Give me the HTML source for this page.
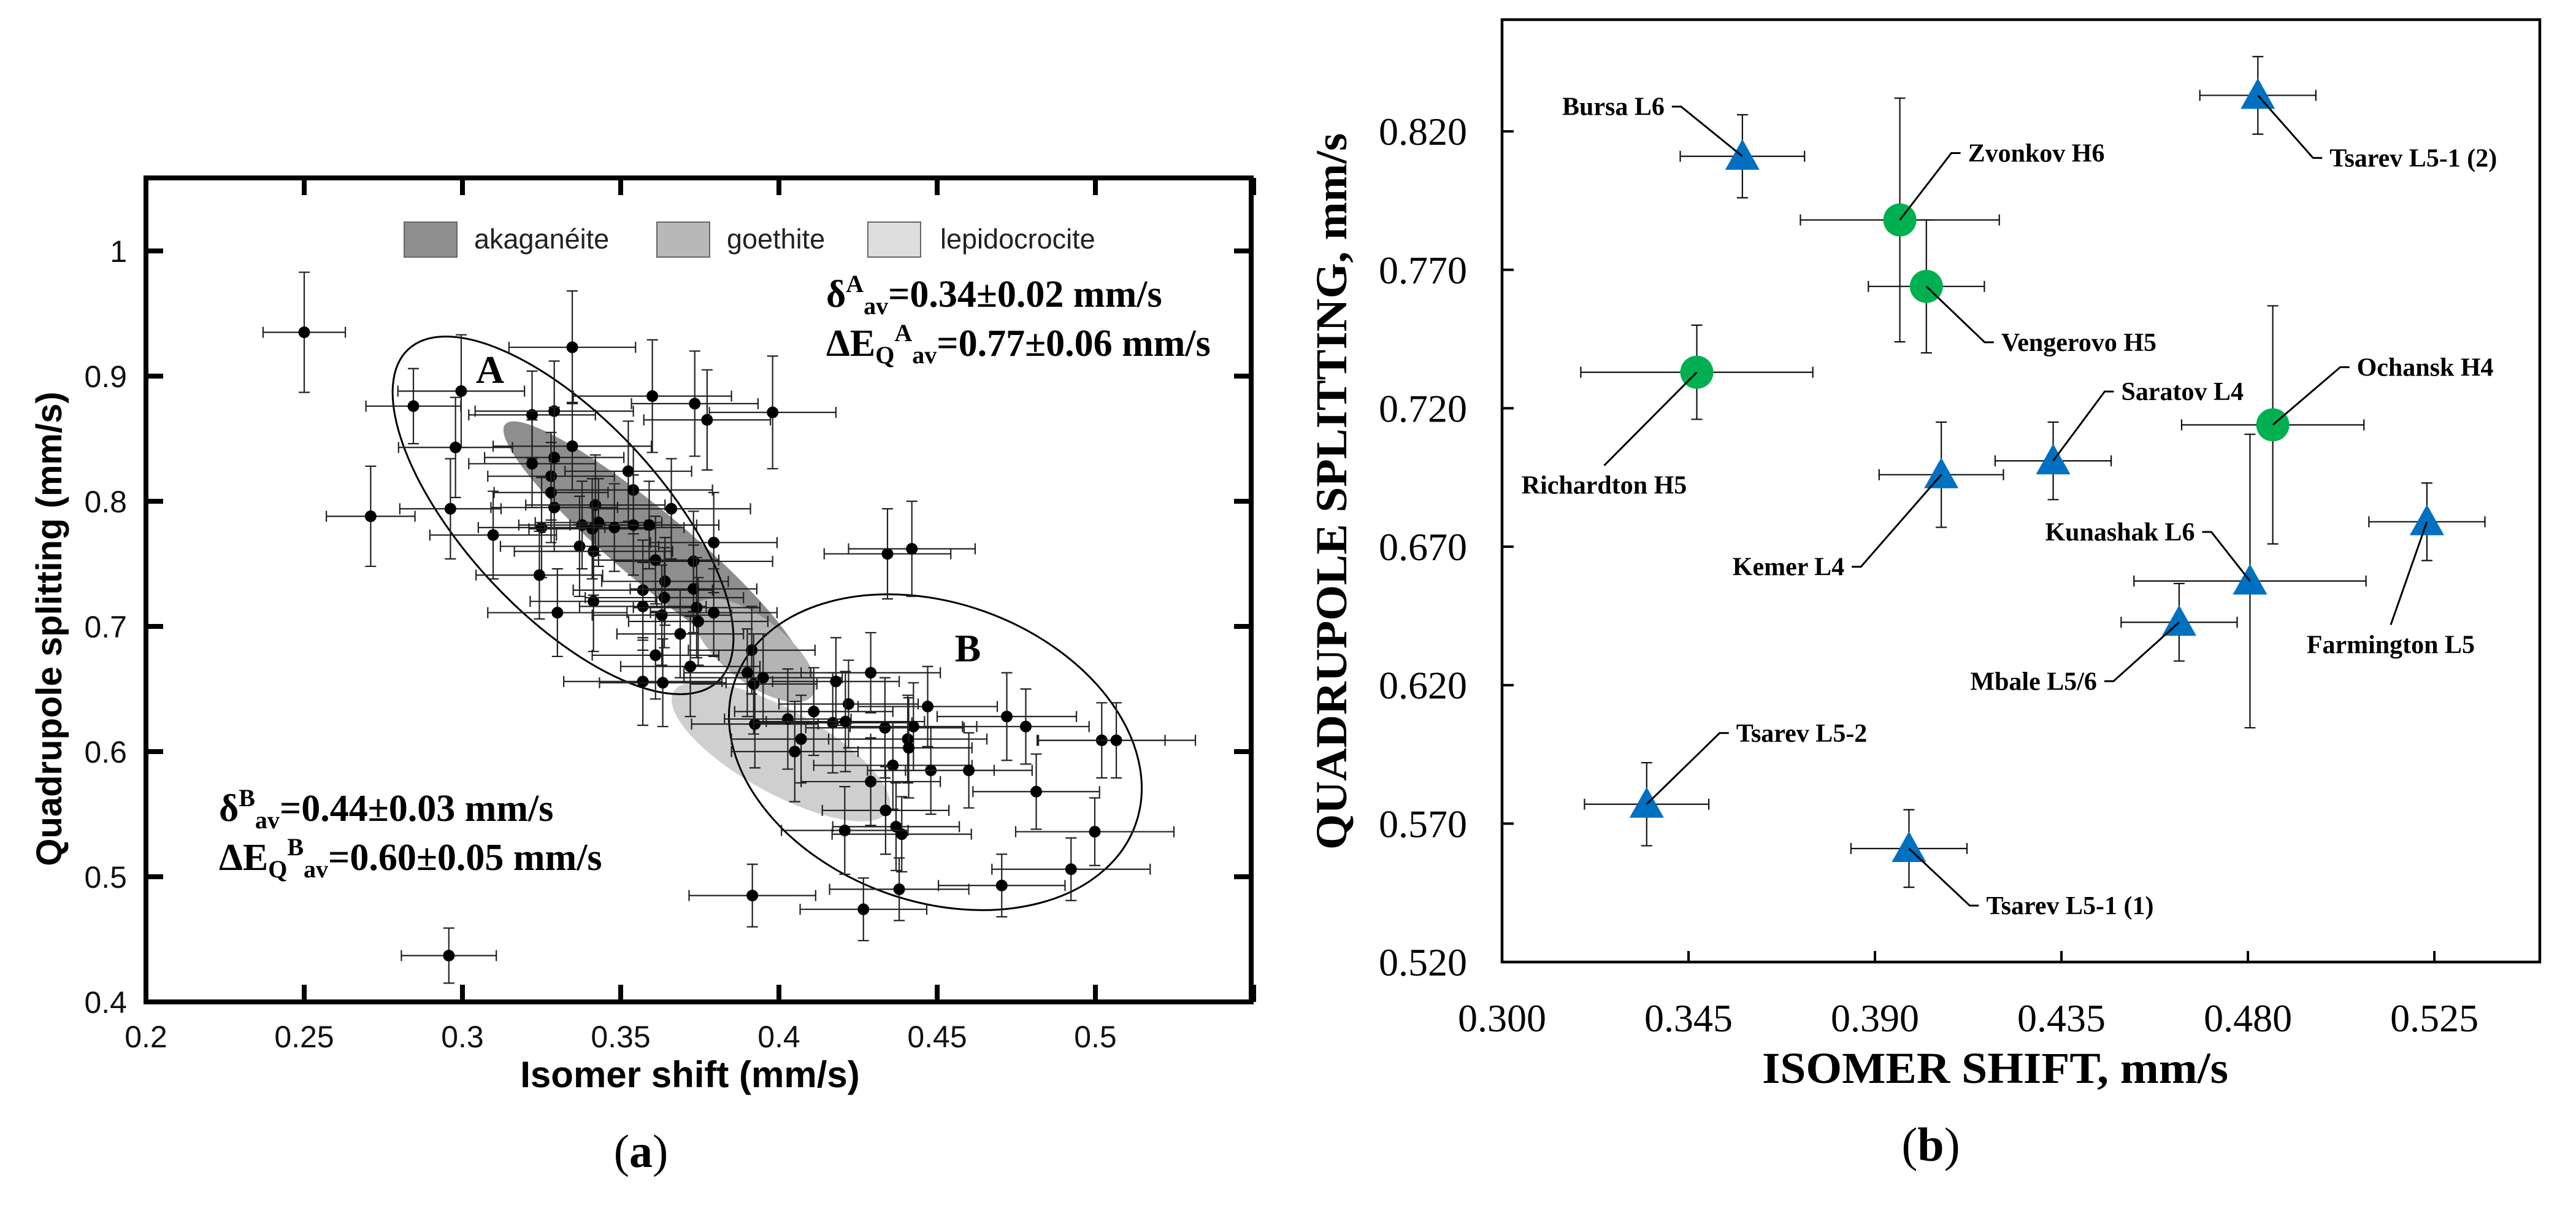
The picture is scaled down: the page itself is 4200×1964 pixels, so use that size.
<!DOCTYPE html>
<html><head><meta charset="utf-8"><style>
html,body{margin:0;padding:0;background:#fff}
svg{display:block}
.sans{font-family:"Liberation Sans",Arial,sans-serif}
.serif{font-family:"Liberation Serif","Times New Roman",serif}
</style></head><body>
<svg id="fig" width="4200" height="1964" viewBox="0 0 4200 1964" xmlns="http://www.w3.org/2000/svg">
<rect width="4200" height="1964" fill="#fff"/>
<g id="pa"></g>
<g id="pb"></g>
</svg>
<script>
// ---------- Panel (a) data ----------
const aXTicks=[0.2,0.25,0.3,0.35,0.4,0.45,0.5];
const aXTickLabels=["0.2","0.25","0.3","0.35","0.4","0.45","0.5"];
const aYTicks=[0.4,0.5,0.6,0.7,0.8,0.9,1.0];
const aYTickLabels=["0.4","0.5","0.6","0.7","0.8","0.9","1"];
const aX=[0.250,0.2957,0.271,0.2845,0.2996,0.2978,0.2962,0.3097,0.322,0.329,0.3347,0.322,0.329,0.3347,0.328,0.328,0.329,0.325,0.3243,0.330,0.337,0.3378,0.342,0.343,0.341,0.3414,0.3414,0.348,0.3524,0.354,0.354,0.359,0.360,0.366,0.361,0.357,0.364,0.3638,0.357,0.363,0.3688,0.361,0.357,0.3633,0.3734,0.3773,0.398,0.373,0.373,0.374,0.3745,0.3794,0.3794,0.372,0.3914,0.390,0.392,0.395,0.3924,0.4028,0.411,0.405,0.407,0.417,0.418,0.422,0.421,0.429,0.4335,0.4425,0.447,0.4407,0.441,0.436,0.448,0.460,0.429,0.4337,0.437,0.4388,0.4208,0.472,0.478,0.4813,0.502,0.5066,0.4998,0.4923,0.4704,0.438,0.4267,0.3916,0.4343,0.442];
const aY=[0.935,0.437,0.788,0.876,0.888,0.843,0.794,0.773,0.869,0.872,0.923,0.830,0.835,0.844,0.820,0.807,0.795,0.779,0.741,0.711,0.764,0.781,0.797,0.783,0.778,0.760,0.720,0.779,0.824,0.809,0.781,0.781,0.884,0.794,0.753,0.729,0.736,0.723,0.716,0.709,0.694,0.677,0.656,0.655,0.878,0.865,0.871,0.752,0.730,0.715,0.704,0.767,0.711,0.668,0.681,0.663,0.654,0.659,0.622,0.626,0.632,0.600,0.610,0.623,0.656,0.638,0.624,0.663,0.619,0.620,0.636,0.610,0.603,0.589,0.585,0.585,0.576,0.553,0.540,0.534,0.537,0.628,0.620,0.568,0.609,0.609,0.536,0.506,0.493,0.490,0.474,0.485,0.758,0.762];
const aXE=[0.013,0.015,0.014,0.015,0.02,0.018,0.016,0.02,0.02,0.025,0.02,0.02,0.022,0.025,0.02,0.018,0.02,0.02,0.02,0.022,0.025,0.02,0.022,0.02,0.02,0.025,0.02,0.022,0.02,0.025,0.02,0.022,0.025,0.025,0.02,0.022,0.02,0.025,0.02,0.022,0.02,0.02,0.025,0.02,0.02,0.02,0.02,0.025,0.02,0.02,0.022,0.02,0.02,0.022,0.02,0.02,0.02,0.025,0.02,0.02,0.025,0.02,0.022,0.025,0.02,0.022,0.025,0.022,0.025,0.02,0.022,0.025,0.02,0.025,0.02,0.02,0.022,0.02,0.02,0.022,0.02,0.022,0.02,0.02,0.02,0.025,0.025,0.025,0.02,0.022,0.02,0.02,0.02,0.02];
const aYE=[0.048,0.022,0.04,0.03,0.045,0.04,0.04,0.035,0.035,0.04,0.045,0.035,0.04,0.035,0.035,0.04,0.035,0.04,0.035,0.035,0.04,0.035,0.04,0.035,0.04,0.035,0.04,0.035,0.04,0.035,0.04,0.035,0.045,0.04,0.035,0.04,0.035,0.04,0.035,0.04,0.035,0.035,0.035,0.035,0.042,0.04,0.045,0.04,0.035,0.04,0.035,0.04,0.035,0.04,0.035,0.035,0.04,0.035,0.035,0.04,0.035,0.04,0.035,0.04,0.035,0.035,0.04,0.032,0.04,0.035,0.032,0.035,0.04,0.035,0.035,0.03,0.035,0.035,0.035,0.03,0.035,0.035,0.03,0.03,0.03,0.03,0.027,0.025,0.025,0.025,0.025,0.025,0.036,0.038];

// ---------- Panel (b) data ----------
const bXTicks=[0.300,0.345,0.390,0.435,0.480,0.525];
const bXTickLabels=["0.300","0.345","0.390","0.435","0.480","0.525"];
const bYTicks=[0.520,0.570,0.620,0.670,0.720,0.770,0.820];
const bYTickLabels=["0.520","0.570","0.620","0.670","0.720","0.770","0.820"];
const bNames=["Bursa L6","Zvonkov  H6","Vengerovo H5","Richardton H5","Ochansk H4","Saratov L4","Kemer L4","Tsarev L5-1 (2)","Farmington L5","Kunashak L6","Mbale L5/6","Tsarev L5-2","Tsarev L5-1 (1)"];
const bType=["L","H","H","H","H","L","L","L","L","L","L","L","L"];
const bX=[0.358,0.396,0.4024,0.347,0.486,0.433,0.406,0.4824,0.5232,0.4805,0.4634,0.3349,0.3982];
const bY=[0.811,0.788,0.764,0.733,0.714,0.701,0.696,0.833,0.679,0.6576,0.6427,0.577,0.561];
const bXE=[0.015,0.024,0.014,0.028,0.022,0.014,0.015,0.014,0.014,0.028,0.014,0.015,0.014];
const bYE=[0.015,0.044,0.024,0.017,0.043,0.014,0.019,0.014,0.014,0.053,0.014,0.015,0.014];
// label layout (pixel offsets from marker to leader elbow; side: l/r/b)
const bLabDX=[-100,84,95,-151,110,84,-131,90,-59,-63,-107,119,99];
const bLabDY=[-81,-109,91,152,-94,-113,150,102,168,-80,96,-116,93];
const bLabSide=["l","r","r","b","r","r","l","r","b","l","l","r","r"];

const NS="http://www.w3.org/2000/svg";
function mk(parent,tag,attrs,name,inter){
  const e=document.createElementNS(NS,tag);
  for(const k in attrs)e.setAttribute(k,attrs[k]);
  
  
  parent.appendChild(e);return e;
}
function txt(parent,x,y,s,attrs,name){
  const e=mk(parent,'text',Object.assign({x:x,y:y},attrs),name,false);
  e.textContent=s;return e;
}

// ================= Panel A =================
const A=document.getElementById('pa');
const aL=238,aR=2040,aT=290,aB=1633;
function ax(v){return aL+(v-0.2)*5160;}
function ay(v){return aB-(v-0.4)*2040;}

mk(A,'ellipse',{cx:1273,cy:1225,rx:200,ry:68,transform:'rotate(29 1273 1225)',fill:'#cfcfcf'},'goethite-region',false);
mk(A,'ellipse',{cx:1065,cy:894,rx:315,ry:58,transform:'rotate(40 1065 894)',fill:'#8e8e8e'},'akaganeite-region',false);
mk(A,'ellipse',{cx:1230,cy:1060,rx:120,ry:52,transform:'rotate(38 1230 1060)',fill:'#b4b4b4'},'goethite-overlap',false);

mk(A,'ellipse',{cx:918,cy:840,rx:370,ry:159,transform:'rotate(47 918 840)',fill:'none',stroke:'#000','stroke-width':3},'cluster-a-ellipse',false);
mk(A,'ellipse',{cx:1525,cy:1226,rx:347,ry:243,transform:'rotate(20 1525 1226)',fill:'none',stroke:'#000','stroke-width':3},'cluster-b-ellipse',false);

for(let i=0;i<aX.length;i++){
  const g=mk(A,'g',{},'data-point',false);
  const cx=ax(aX[i]),cy=ay(aY[i]);
  const x1=ax(aX[i]-aXE[i]),x2=ax(aX[i]+aXE[i]);
  const y1=ay(aY[i]+aYE[i]),y2=ay(aY[i]-aYE[i]);
  const s={stroke:'#222','stroke-width':2.2};
  mk(g,'line',Object.assign({x1:x1,y1:cy,x2:x2,y2:cy},s),'x-error-bar',false);
  mk(g,'line',Object.assign({x1:x1,y1:cy-9,x2:x1,y2:cy+9},s),'x-error-cap',false);
  mk(g,'line',Object.assign({x1:x2,y1:cy-9,x2:x2,y2:cy+9},s),'x-error-cap',false);
  mk(g,'line',Object.assign({x1:cx,y1:y1,x2:cx,y2:y2},s),'y-error-bar',false);
  mk(g,'line',Object.assign({x1:cx-9,y1:y1,x2:cx+9,y2:y1},s),'y-error-cap',false);
  mk(g,'line',Object.assign({x1:cx-9,y1:y2,x2:cx+9,y2:y2},s),'y-error-cap',false);
  mk(g,'circle',{cx:cx,cy:cy,r:9.5,fill:'#000'},'point-marker',false);
}

mk(A,'rect',{x:aL,y:aT,width:aR-aL,height:aB-aT,fill:'none',stroke:'#000','stroke-width':8},'plot-frame-a',false);
const aXT=aXTicks.concat([0.55]);
aXT.forEach((v,i)=>{
  const x=ax(v);
  mk(A,'line',{x1:x,y1:aB,x2:x,y2:aB-28,stroke:'#000','stroke-width':8},'x-tick',false);
  mk(A,'line',{x1:x,y1:aT,x2:x,y2:aT+28,stroke:'#000','stroke-width':8},'x-tick-top',false);
  if(i<aXTickLabels.length) txt(A,x,1707,aXTickLabels[i],{class:'sans','font-size':50,'text-anchor':'middle',fill:'#111'},'x-tick-label');
});
aYTicks.forEach((v,i)=>{
  const y=ay(v);
  mk(A,'line',{x1:aL,y1:y,x2:aL+28,y2:y,stroke:'#000','stroke-width':8},'y-tick',false);
  mk(A,'line',{x1:aR,y1:y,x2:aR-28,y2:y,stroke:'#000','stroke-width':8},'y-tick-right',false);
  txt(A,207,y+18,aYTickLabels[i],{class:'sans','font-size':50,'text-anchor':'end',fill:'#111'},'y-tick-label');
});
txt(A,1125,1772,'Isomer shift (mm/s)',{class:'sans','font-size':60,'font-weight':'bold','text-anchor':'middle'},'x-axis-title');
txt(A,0,0,'Quadrupole splitting (mm/s)',{class:'sans','font-size':58,'font-weight':'bold','text-anchor':'middle',transform:'translate(100 1025) rotate(-90)'},'y-axis-title');

const legend=mk(A,'g',{},'legend',false);
[['akaganéite',659,773,'#8e8e8e'],['goethite',1071,1185,'#b8b8b8'],['lepidocrocite',1415,1533,'#dedede']].forEach(l=>{
  mk(legend,'rect',{x:l[1],y:362,width:86,height:57,fill:l[3],stroke:'#666','stroke-width':2},'legend-swatch',false);
  txt(legend,l[2],405,l[0],{class:'sans','font-size':45,fill:'#222'},'legend-entry');
});

(function(){
  let t=mk(A,'text',{x:1347,y:500,class:'serif','font-size':62,'font-weight':'bold'},'stat-delta-a',false);
  t.innerHTML='δ<tspan font-size="40" dy="-24">A</tspan><tspan font-size="40" dy="36">av</tspan><tspan dy="-12">=0.34±0.02 mm/s</tspan>';
  t=mk(A,'text',{x:1347,y:580,class:'serif','font-size':62,'font-weight':'bold'},'stat-deq-a',false);
  t.innerHTML='ΔE<tspan font-size="40" dy="12">Q</tspan><tspan font-size="40" dy="-36">A</tspan><tspan font-size="40" dy="36">av</tspan><tspan dy="-12">=0.77±0.06 mm/s</tspan>';
  t=mk(A,'text',{x:357,y:1338,class:'serif','font-size':62,'font-weight':'bold'},'stat-delta-b',false);
  t.innerHTML='δ<tspan font-size="40" dy="-24">B</tspan><tspan font-size="40" dy="36">av</tspan><tspan dy="-12">=0.44±0.03 mm/s</tspan>';
  t=mk(A,'text',{x:357,y:1418,class:'serif','font-size':62,'font-weight':'bold'},'stat-deq-b',false);
  t.innerHTML='ΔE<tspan font-size="40" dy="12">Q</tspan><tspan font-size="40" dy="-36">B</tspan><tspan font-size="40" dy="36">av</tspan><tspan dy="-12">=0.60±0.05 mm/s</tspan>';
})();
txt(A,799,624,'A',{class:'serif','font-size':64,'font-weight':'bold','text-anchor':'middle'},'cluster-a-label');
txt(A,1578,1078,'B',{class:'serif','font-size':64,'font-weight':'bold','text-anchor':'middle'},'cluster-b-label');
(function(){
  const t=mk(A,'text',{x:1045,y:1902,class:'serif','font-size':76,'text-anchor':'middle'},'panel-a-caption',false);
  t.innerHTML='(<tspan font-weight="bold">a</tspan>)';
})();

// ================= Panel B =================
const B=document.getElementById('pb');
const bL=2449,bR=4141,bT=32,bB=1568;
function bx(v){return bL+(v-0.3)*6756;}
function by(v){return bB-(v-0.52)*4513;}

mk(B,'rect',{x:bL,y:bT,width:bR-bL,height:bB-bT,fill:'none',stroke:'#000','stroke-width':4.5},'plot-frame-b',false);
bXTicks.forEach((v,i)=>{
  const x=bx(v);
  if(i>0) mk(B,'line',{x1:x,y1:bB,x2:x,y2:bB-18,stroke:'#000','stroke-width':4},'x-tick',false);
  txt(B,x,1681,bXTickLabels[i],{class:'serif','font-size':64,'text-anchor':'middle'},'x-tick-label');
});
bYTicks.forEach((v,i)=>{
  const y=by(v);
  if(i>0) mk(B,'line',{x1:bL,y1:y,x2:bL+19,y2:y,stroke:'#000','stroke-width':4},'y-tick',false);
  txt(B,2392,y+22,bYTickLabels[i],{class:'serif','font-size':64,'text-anchor':'end'},'y-tick-label');
});
txt(B,3253,1765,'ISOMER  SHIFT,  mm/s',{class:'serif','font-size':72,'font-weight':'bold','text-anchor':'middle',textLength:760,lengthAdjust:'spacingAndGlyphs'},'x-axis-title');
txt(B,0,0,'QUADRUPOLE  SPLITTING,  mm/s',{class:'serif','font-size':72,'font-weight':'bold','text-anchor':'middle',textLength:1168,lengthAdjust:'spacingAndGlyphs',transform:'translate(2195 801) rotate(-90)'},'y-axis-title');
(function(){
  const t=mk(B,'text',{x:3148,y:1892,class:'serif','font-size':78,'text-anchor':'middle'},'panel-b-caption',false);
  t.innerHTML='(<tspan font-weight="bold">b</tspan>)';
})();

for(let i=0;i<bX.length;i++){
  const g=mk(B,'g',{},'meteorite-point',false);
  const cx=bx(bX[i]),cy=by(bY[i]);
  const x1=bx(bX[i]-bXE[i]),x2=bx(bX[i]+bXE[i]);
  const y1=by(bY[i]+bYE[i]),y2=by(bY[i]-bYE[i]);
  const s={stroke:'#111','stroke-width':2.2};
  mk(g,'line',Object.assign({x1:x1,y1:cy,x2:x2,y2:cy},s),'x-error-bar',false);
  mk(g,'line',Object.assign({x1:x1,y1:cy-9,x2:x1,y2:cy+9},s),'x-error-cap',false);
  mk(g,'line',Object.assign({x1:x2,y1:cy-9,x2:x2,y2:cy+9},s),'x-error-cap',false);
  mk(g,'line',Object.assign({x1:cx,y1:y1,x2:cx,y2:y2},s),'y-error-bar',false);
  mk(g,'line',Object.assign({x1:cx-9,y1:y1,x2:cx+9,y2:y1},s),'y-error-cap',false);
  mk(g,'line',Object.assign({x1:cx-9,y1:y2,x2:cx+9,y2:y2},s),'y-error-cap',false);
  if(bType[i]==='H'){
    mk(g,'circle',{cx:cx,cy:cy,r:27,fill:'#00B050'},'h-chondrite-marker',false);
  } else {
    mk(g,'polygon',{points:(cx)+','+(cy-28)+' '+(cx-28)+','+(cy+22)+' '+(cx+28)+','+(cy+22),fill:'#0070C0'},'l-chondrite-marker',false);
  }
  const ex=cx+bLabDX[i],ey=cy+bLabDY[i];
  const side=bLabSide[i];
  let pts=cx+','+cy+' '+ex+','+ey;
  if(side==='r'){pts+=' '+(ex+15)+','+ey;}
  if(side==='l'){pts+=' '+(ex-15)+','+ey;}
  mk(g,'polyline',{points:pts,fill:'none',stroke:'#000','stroke-width':3},'leader-line',false);
  let lx,ly,anchor;
  if(side==='r'){lx=ex+27;ly=ey+14;anchor='start';}
  else if(side==='l'){lx=ex-27;ly=ey+14;anchor='end';}
  else {lx=ex;ly=ey+46;anchor='middle';}
  txt(g,lx,ly,bNames[i],{class:'serif','font-size':42,'font-weight':'bold','text-anchor':anchor},'point-label');
}
</script>
</body></html>
